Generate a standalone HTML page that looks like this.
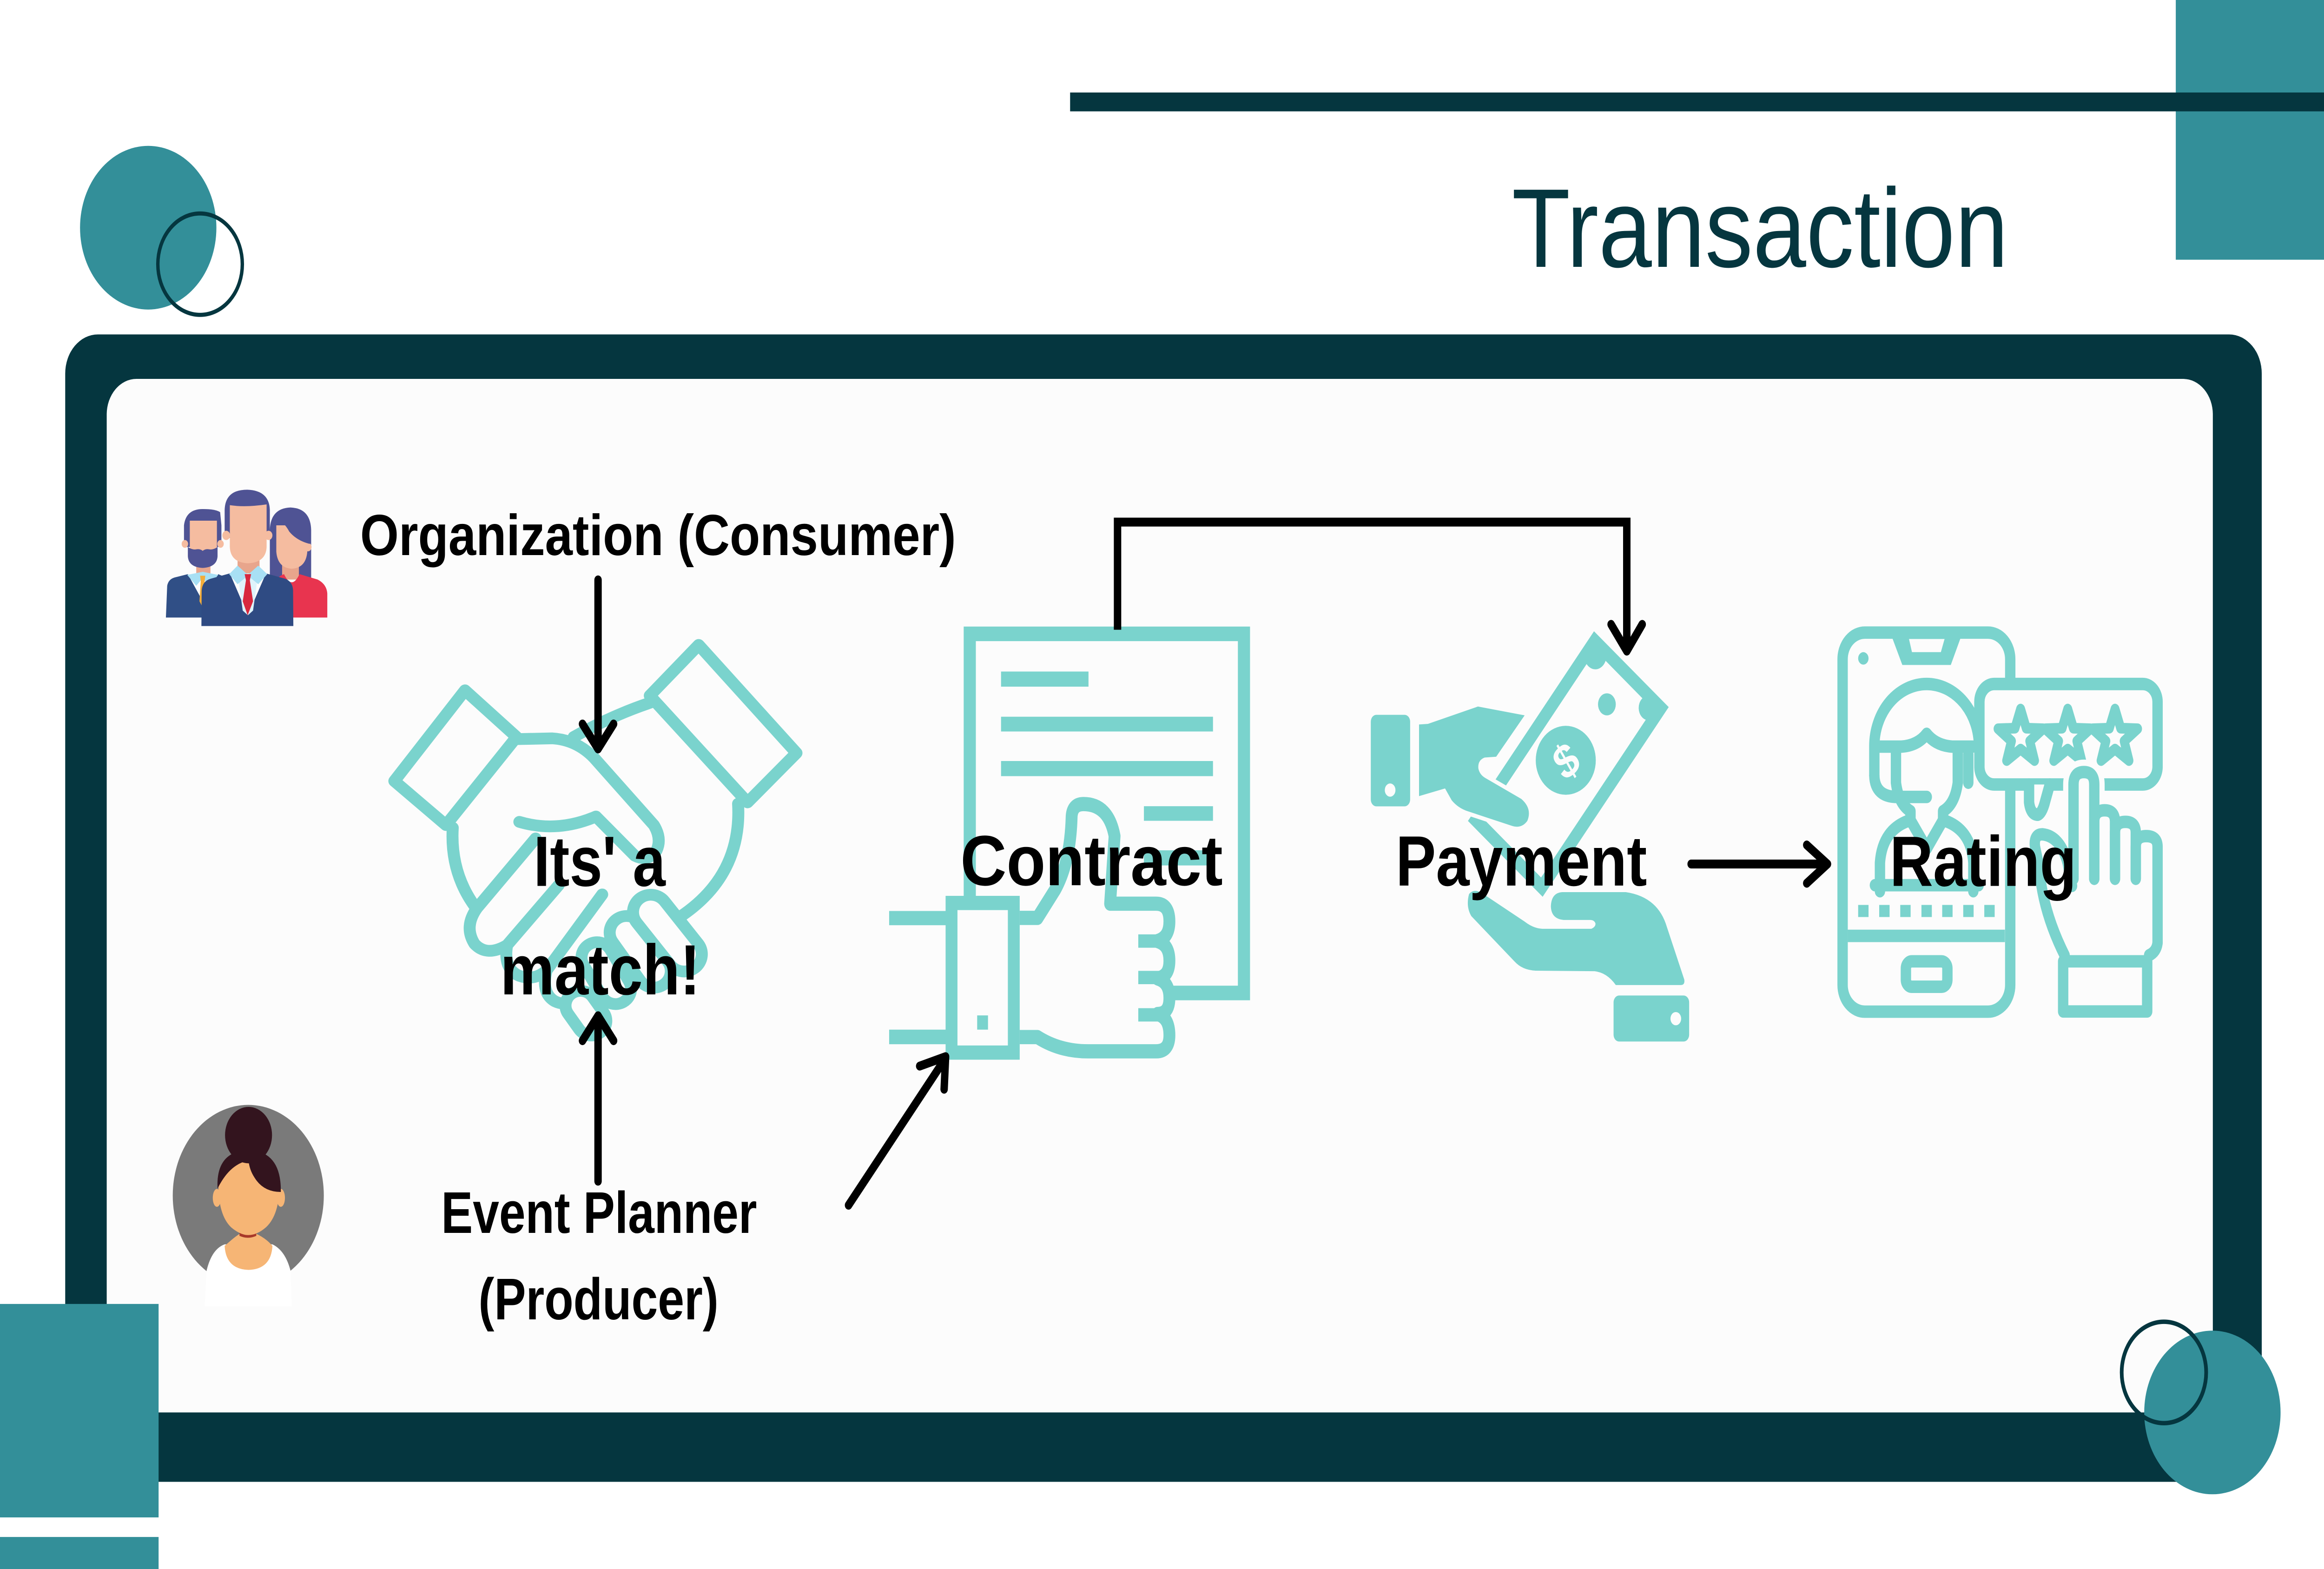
<!DOCTYPE html>
<html><head><meta charset="utf-8"><style>html,body{margin:0;padding:0;background:#fff;overflow:hidden;width:100%;height:100%}svg{display:block;width:100vw;height:100vh}</style></head>
<body>
<svg viewBox="0 0 1568 882" preserveAspectRatio="none" xmlns="http://www.w3.org/2000/svg">
<rect x="0" y="0" width="1568" height="882" fill="#ffffff"/>
<!-- top decorations -->
<rect x="1468" y="0" width="100" height="146" fill="#338f99"/>
<rect x="722" y="52" width="846" height="10.6" fill="#05363f"/>
<circle cx="100" cy="128" r="46" fill="#338f99"/>
<circle cx="135" cy="148.5" r="28.5" fill="none" stroke="#05363f" stroke-width="2.3"/>
<text x="1020" y="150" font-family="'Liberation Sans', Arial, sans-serif" font-size="63" fill="#05363f" textLength="335" lengthAdjust="spacingAndGlyphs">Transaction</text>
<!-- frame -->
<rect x="44" y="188" width="1482" height="645" rx="22" fill="#05363f"/>
<rect x="72" y="213" width="1421" height="581" rx="20" fill="#fcfcfc"/>
<!-- bottom decorations -->
<rect x="0" y="733" width="107" height="120" fill="#338f99"/>
<rect x="0" y="864" width="107" height="18" fill="#338f99"/>
<circle cx="1492.7" cy="794" r="46" fill="#338f99"/>
<circle cx="1460" cy="771.5" r="28.5" fill="none" stroke="#05363f" stroke-width="2.5"/>

<!-- people icon -->
<g transform="translate(104.533,269.176) scale(0.087112)">
  <path d="M890,640 L890,330 Q895,190 1050,185 Q1205,190 1210,330 L1210,640 Z" fill="#4f5394"/>
  <rect x="985" y="520" width="130" height="130" fill="#e8a58c"/>
  <path d="M940,300 L1180,300 L1180,470 Q1170,575 1060,580 Q950,575 940,470 Z" fill="#f5bca0"/>
  <circle cx="1185" cy="440" r="28" fill="#f5bca0"/>
  <path d="M930,270 Q990,262 1040,340 Q1100,400 1200,420 L1200,300 Q1150,220 1050,215 Q960,220 930,270 Z" fill="#4f5394"/>
  <path d="M935,895 L940,650 Q970,622 1000,615 Q1060,720 1120,615 L1260,650 Q1330,680 1335,740 L1335,895 Z" fill="#e8344f"/>
  <path d="M225,440 L225,300 Q240,195 370,195 Q470,195 505,215 L515,300 L515,440 Z" fill="#4f5394"/>
  <rect x="320" y="500" width="110" height="120" fill="#e8a58c"/>
  <path d="M270,270 L480,270 L480,500 L270,500 Z" fill="#f5bca0"/>
  <circle cx="232" cy="420" r="25" fill="#f5bca0"/>
  <circle cx="508" cy="420" r="25" fill="#f5bca0"/>
  <path d="M255,440 L255,500 Q260,570 370,575 Q480,570 485,500 L485,440 Q450,460 420,455 Q390,450 370,465 Q350,450 320,455 Q290,460 255,440 Z" fill="#4f5394"/>
  <path d="M85,895 L95,690 Q105,645 160,635 L255,615 L370,790 L490,615 L560,640 L560,895 Z" fill="#304f86"/>
  <polygon points="250,620 370,600 490,620 420,690 370,640 320,690" fill="#a8e0f4"/>
  <polygon points="350,625 390,625 385,660 395,790 370,830 345,790 355,660" fill="#f2ac3a"/>
  <path d="M540,380 L540,200 Q545,70 715,70 Q885,75 890,200 L890,380 Z" fill="#4f5394"/>
  <rect x="640" y="470" width="170" height="150" fill="#e8a58c"/>
  <path d="M580,170 Q700,185 865,165 L865,440 Q860,540 720,545 Q585,540 580,440 Z" fill="#f5bca0"/>
  <circle cx="552" cy="365" r="30" fill="#f5bca0"/>
  <circle cx="880" cy="365" r="30" fill="#f5bca0"/>
  <path d="M360,950 L362,720 Q368,660 430,645 L580,610 L720,880 L860,610 L1010,645 Q1068,665 1070,720 L1072,950 Z" fill="#2f4b83"/>
  <polygon points="640,610 800,610 760,850 720,880 680,850" fill="#dff3fb"/>
  <polygon points="575,615 640,560 720,620 800,560 870,615 800,680 720,625 640,680" fill="#a8e0f4"/>
  <polygon points="695,615 745,615 735,655 760,790 718,880 680,790 705,655" fill="#d8283e"/>
</g>

<!-- woman avatar -->
<g transform="translate(109.76,616.75) scale(0.087112)">
  <circle cx="663" cy="635" r="585" fill="#7a7a7a"/>
  <path d="M340,1120 Q380,980 480,950 L850,950 Q950,990 990,1120 L1000,1350 L325,1350 Z" fill="#ffffff"/>
  <path d="M480,960 Q560,900 600,880 L720,880 Q800,910 850,960 Q840,1110 665,1115 Q490,1110 480,960 Z" fill="#f6b575"/>
  <path d="M595,875 Q660,905 725,875 L725,895 Q660,920 595,895 Z" fill="#a8392a"/>
  <ellipse cx="420" cy="650" rx="32" ry="58" fill="#f6b575"/>
  <ellipse cx="915" cy="650" rx="32" ry="58" fill="#f6b575"/>
  <path d="M432,560 Q430,760 530,840 Q600,890 665,890 Q730,890 800,840 Q905,760 905,560 Q905,410 665,410 Q432,410 432,560 Z" fill="#f6b575"/>
  <circle cx="665" cy="245" r="182" fill="#33141e"/>
  <path d="M425,590 Q410,350 665,340 Q920,350 915,612 Q780,612 712,520 Q672,470 665,410 Q520,430 425,590 Z" fill="#33141e"/>
</g>

<!-- handshake icon -->
<g transform="translate(258.72,352.8) scale(0.18334,0.15)" fill="none" stroke="#7ad3cd" stroke-width="44" stroke-linecap="round" stroke-linejoin="round">
  <path d="M300,235 L490,410 L230,740 L40,575 Z"/>
  <path d="M1160,65 L1520,470 L1340,655 L980,255 Z"/>
  <path d="M700,410 Q840,330 980,282"/>
  <path d="M255,750 Q245,920 340,1050"/>
  <path d="M1305,660 Q1320,930 1090,1085"/>
  <path d="M560,790 L345,1050 Q295,1120 335,1185 Q380,1235 455,1190 L645,965"/>
  <path d="M455,1190 Q440,1280 500,1305 Q555,1325 600,1285 L805,1000"/>
  <path d="M600,1285 Q580,1370 630,1400 Q670,1420 705,1395"/>
  <path d="M500,728 Q640,770 782,708 L925,855 Q975,880 1005,835 Q1025,790 995,740 L775,488 Q710,420 620,415 L490,418"/>
  <g fill="#fcfcfc">
    <rect x="-90" y="-55" width="180" height="110" rx="55" transform="translate(745,1445) rotate(55)"/>
    <rect x="-125" y="-57" width="250" height="114" rx="57" transform="translate(820,1295) rotate(60)"/>
    <rect x="-150" y="-62" width="300" height="124" rx="62" transform="translate(945,1215) rotate(55)"/>
    <rect x="-165" y="-65" width="330" height="130" rx="65" transform="translate(1045,1145) rotate(52)"/>
  </g>
</g>

<!-- contract icon -->
<g fill="#7ad3cd">
  <path d="M654.3,507 L654.3,356.3 L839.3,356.3 L839.3,558.2 L791,558.2" fill="none" stroke="#7ad3cd" stroke-width="8.2"/>
  <rect x="675.4" y="377.5" width="59" height="8.5"/>
  <rect x="675.4" y="402.9" width="143" height="8.3"/>
  <rect x="675.4" y="427.8" width="143" height="8.5"/>
  <rect x="771.8" y="453.2" width="46.6" height="8.2"/>
  <rect x="771.8" y="478" width="46.6" height="8.5"/>
  <rect x="599.9" y="512.1" width="40" height="8"/>
  <rect x="599.9" y="578.8" width="40" height="8.2"/>
  <path d="M688,516 L700,516 L712,500 Q722,485 723,460 Q723,452 731,452 Q748,452 752,470 L749,508 L780,508 Q789,508 789,518 Q789,527 781,529 Q789,531 789,540 Q789,549 781,550 Q789,552 789,561 Q789,570 781,570 Q789,572 789,582 Q789,591 780,591 L734,591 Q715,591 700,583 L688,583" fill="#fcfcfc" stroke="#7ad3cd" stroke-width="8" stroke-linejoin="round"/>
  <path d="M768,529 L782,529 M768,549.5 L782,549.5 M768,570.5 L782,570.5" stroke="#7ad3cd" stroke-width="7.5" fill="none"/>
  <rect x="642" y="507.6" width="42" height="84.1" fill="#fcfcfc" stroke="#7ad3cd" stroke-width="8"/>
  <rect x="659.3" y="570.8" width="7.3" height="8"/>
</g>

<!-- payment icon -->
<g transform="translate(914.67,347.57) scale(0.15,0.155)" fill="#7ad3cd">
  <polygon points="1072,47 1408,322 841,1010 505,735"/>
  <polygon points="1079,117 1337,329 834,940 576,728" fill="#fcfcfc"/>
  <circle cx="1078" cy="135" r="50"/>
  <circle cx="1318" cy="325" r="45"/>
  <circle cx="1130" cy="312" r="40"/>
  <ellipse cx="945" cy="515" rx="135" ry="125"/>
  <text x="945" y="578" font-family="'Liberation Sans', Arial, sans-serif" font-weight="bold" font-size="175" fill="#fcfcfc" text-anchor="middle" transform="rotate(-35 945 515)">$</text>
  <path d="M285,385 L325,383 L550,320 L760,352 L632,502 L580,505 Q548,515 552,545 Q558,568 585,580 L745,655 Q795,690 772,735 Q745,765 700,752 L505,700 Q460,688 432,660 L402,617 L285,645 Z" stroke="#fcfcfc" stroke-width="30" paint-order="stroke" stroke-linejoin="round"/>
  <rect x="68" y="350" width="177" height="332" rx="25"/>
  <circle cx="155" cy="623" r="24" fill="#fcfcfc"/>
  <path d="M510,1000 Q530,980 565,995 L760,1100 Q800,1125 840,1126 L1060,1126 Q1082,1118 1078,1105 Q1072,1094 1055,1094 L935,1094 Q880,1090 878,1045 Q880,995 930,993 L1215,993 Q1360,1010 1400,1120 L1478,1310 Q1482,1330 1462,1330 L1170,1330 Q1130,1285 1075,1280 L810,1278 Q750,1276 715,1245 L520,1080 Q495,1045 510,1000 Z"/>
  <rect x="1160" y="1368" width="340" height="167" rx="25"/>
  <circle cx="1440" cy="1452" r="24" fill="#fcfcfc"/>
</g>

<!-- rating icon -->
<g fill="none" stroke="#7ad3cd" stroke-width="7" stroke-linejoin="round" stroke-linecap="round">
  <rect x="1243.2" y="355.6" width="113.1" height="213.1" rx="15"/>
  <polygon points="1276,357 1323.5,357 1316.2,373.8 1283.5,373.8" fill="#7ad3cd" stroke="none"/>
  <polygon points="1288,359.2 1312,359.2 1309.5,366.6 1290,366.6" fill="#fcfcfc" stroke="none"/>
  <circle cx="1257.2" cy="370.1" r="3.5" fill="#7ad3cd" stroke="none"/>
  <rect x="1246.7" y="522.6" width="106" height="7" fill="#7ad3cd" stroke="none"/>
  <rect x="1285.9" y="540.4" width="28" height="14.3" rx="4"/>
  <g fill="#7ad3cd" stroke="none">
    <rect x="1253.7" y="508.7" width="7" height="6.8"/>
    <rect x="1267.9" y="508.7" width="7" height="6.8"/>
    <rect x="1282.1" y="508.7" width="7" height="6.8"/>
    <rect x="1296.4" y="508.7" width="7" height="6.8"/>
    <rect x="1310.4" y="508.7" width="7" height="6.8"/>
    <rect x="1324.6" y="508.7" width="7" height="6.8"/>
    <rect x="1338.8" y="508.7" width="7" height="6.8"/>
  </g>
  <path d="M1264.6,436 L1264.6,419.5 A35.3,35 0 0 1 1335.2,419.5"/>
  <path d="M1264.6,436 Q1265,448 1280,448 L1300,448"/>
  <path d="M1268,419.7 L1283,419.7 Q1294,419 1299.9,412.5 Q1306,419 1317,419.7 L1331,419.7"/>
  <path d="M1279.2,422 L1279.2,440 Q1281,452 1289,456 L1289,462 M1320.9,422 L1320.9,440 Q1319,452 1311,456 L1311,462"/>
  <path d="M1328,424 L1328,440"/>
  <path d="M1268.4,501 L1268.4,485 Q1270,466 1289,461 L1300,477 L1311,461 Q1330,466 1331.4,485 L1331.4,501 M1265,497.6 L1335,497.6"/>
  <rect x="1335.5" y="384.5" width="120.2" height="56.5" rx="10" fill="#fcfcfc"/>
  <path d="M1369,441 L1369,451 Q1370,458 1375,458 Q1378,457 1380,450 L1383,441" fill="#fcfcfc"/>
  <g stroke-width="6">
    <path transform="translate(1363.3,414.6)" d="M0,-16 L3.82,-5.26 L15.22,-4.94 L6.18,2.01 L9.4,12.94 L0,6.5 L-9.4,12.94 L-6.18,2.01 L-15.22,-4.94 L-3.82,-5.26 Z"/>
    <path transform="translate(1395.1,414.6)" d="M0,-16 L3.82,-5.26 L15.22,-4.94 L6.18,2.01 L9.4,12.94 L0,6.5 L-9.4,12.94 L-6.18,2.01 L-15.22,-4.94 L-3.82,-5.26 Z"/>
    <path transform="translate(1427,414.6)" d="M0,-16 L3.82,-5.26 L15.22,-4.94 L6.18,2.01 L9.4,12.94 L0,6.5 L-9.4,12.94 L-6.18,2.01 L-15.22,-4.94 L-3.82,-5.26 Z"/>
  </g>
  <path d="M1399,445 L1399,441 Q1399,434 1406,434 Q1413,434 1413,441 L1413,445" stroke="#fcfcfc" stroke-width="14"/>
  <path d="M1399,494 L1399,441 Q1399,434 1406,434 Q1413,434 1413,441 L1413,494"/>
  <path d="M1413,494 L1413,462 Q1413,455.5 1420,455.5 Q1427,455.5 1427,462 L1427,494"/>
  <path d="M1427,494 L1427,468 Q1427,462 1434,462 Q1441,462 1441,468 L1441,494"/>
  <path d="M1441,494 L1441,476 Q1441,470 1448,470 Q1455.7,470 1455.7,476 L1455.7,530 Q1455,535 1450,537"/>
  <path d="M1393,537 Q1378,512 1376,488 L1373,476 Q1372,469 1378,469 Q1390,470 1395,485 L1398,498"/>
  <rect x="1392" y="540.4" width="56.7" height="28.2"/>
</g>

<!-- connectors -->
<g fill="none" stroke="#000" stroke-width="5" stroke-linecap="round" stroke-linejoin="round">
  <path d="M403.5,326 L403.5,419"/>
  <path d="M393,407 L403.5,421 L414,407"/>
  <path d="M403.5,664 L403.5,573"/>
  <path d="M393,585 L403.5,571 L414,585"/>
  <path d="M572.5,677.5 L637,596"/>
  <path d="M620.5,599.3 L638,594 L637,612.3"/>
  <path d="M754,354 L754,293.5 L1097.6,293.5 L1097.6,363" stroke-linejoin="miter" stroke-linecap="butt"/>
  <path d="M1087,351 L1097.6,366 L1108,351"/>
  <path d="M1141,485.7 L1231,485.7"/>
  <path d="M1219,475 L1233,485.7 L1219,496.5"/>
</g>

<!-- labels -->
<g font-family="'Liberation Sans', Arial, sans-serif" font-weight="bold" fill="#000">
  <text x="243" y="312" font-size="32.5" textLength="402" lengthAdjust="spacingAndGlyphs">Organization (Consumer)</text>
  <text x="360" y="498" font-size="40" textLength="89" lengthAdjust="spacingAndGlyphs">Its' a</text>
  <text x="337.5" y="559" font-size="40" textLength="135" lengthAdjust="spacingAndGlyphs">match!</text>
  <text x="648" y="497.6" font-size="40" textLength="177" lengthAdjust="spacingAndGlyphs">Contract</text>
  <text x="941.7" y="497.8" font-size="40" textLength="169.5" lengthAdjust="spacingAndGlyphs">Payment</text>
  <text x="1275" y="498" font-size="40" textLength="126" lengthAdjust="spacingAndGlyphs">Rating</text>
  <text x="297.7" y="693" font-size="33" textLength="213" lengthAdjust="spacingAndGlyphs">Event Planner</text>
  <text x="322.8" y="741.7" font-size="33" textLength="162" lengthAdjust="spacingAndGlyphs">(Producer)</text>
</g>
</svg>
</body></html>
